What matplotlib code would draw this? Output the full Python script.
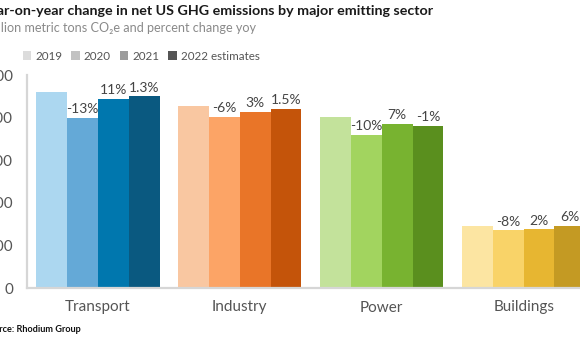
import matplotlib
matplotlib.use("Agg")
import matplotlib.pyplot as plt
from matplotlib.patches import Patch
import numpy as np

sectors = ["Transport", "Industry", "Power", "Buildings"]
years = ["2019", "2020", "2021", "2022 estimates"]
v2019 = [1840, 1711, 1606, 585]
v2020 = [1597, 1608, 1440, 540]
v2021 = [1775, 1656, 1543, 551]
v2022 = [1800, 1681, 1521, 584]
pct2020 = ["-13%", "-6%", "-10%", "-8%"]
pct2021 = ["11%", "3%", "7%", "2%"]
pct2022 = ["1.3%", "1.5%", "-1%", "6%"]
yticks = [0, 400, 800, 1200, 1600, 2000]
ytick_labels = ["0", "400", "800", "1,200", "1,600", "2,000"]

palette = {
    "Transport": ["#acd7f0", "#64a9d7", "#0077ae", "#0a5980"],
    "Industry": ["#f9c7a1", "#fca466", "#e97528", "#c4540a"],
    "Power": ["#c3e29b", "#a2d45f", "#78b330", "#5a8f1e"],
    "Buildings": ["#fce5a2", "#f9d368", "#e7b631", "#c49a23"],
}
legend_colors = ["#dcdcdc", "#c2c2c2", "#9c9c9c", "#555555"]

plt.rcParams["font.family"] = ["Lato", "DejaVu Sans"]

W, H = 580, 350
fig = plt.figure(figsize=(W / 100, H / 100), dpi=100)

x0_px, xr_px = 27, 594.6
yb_px, yt_px = 288, 75
ax = fig.add_axes([x0_px / W, 1 - yb_px / H, (xr_px - x0_px) / W, (yb_px - yt_px) / H])

series = [v2019, v2020, v2021, v2022]
pcts = [None, pct2020, pct2021, pct2022]
bw = 0.217
x = np.arange(len(sectors))
for j, vals in enumerate(series):
    cols = [palette[s][j] for s in sectors]
    bars = ax.bar(x + (j - 1.5) * bw, vals, width=bw, color=cols, edgecolor="none", zorder=2)
    if pcts[j] is not None:
        ax.bar_label(bars, labels=pcts[j], padding=2, fontsize=10, color="#444444")

ax.set_xlim(-0.5, 3.5)
ax.set_ylim(0, 2000)
ax.set_yticks(yticks)
ax.set_yticklabels(ytick_labels)
ax.set_xticks(x)
ax.set_xticklabels(sectors)
ax.tick_params(axis="both", length=0, labelsize=11, colors="#555555")
ax.tick_params(axis="y", pad=10)
ax.tick_params(axis="x", pad=9)
for sp in ["top", "right"]:
    ax.spines[sp].set_visible(False)
for sp in ["left", "bottom"]:
    ax.spines[sp].set_color("#d6d6d6")
    ax.spines[sp].set_linewidth(1.6)

fig.text(433 / W, 1 - 11 / H, "Year-on-year change in net US GHG emissions by major emitting sector",
         ha="right", va="center", fontsize=10.3, fontweight="bold", color="#1a1a1a")
fig.text(256 / W, 1 - 28 / H, "Million metric tons CO₂e and percent change yoy",
         ha="right", va="center", fontsize=9.1, color="#8a8a8a")
fig.text(81 / W, 1 - 330 / H, "Source: Rhodium Group",
         ha="right", va="center", fontsize=6.6, fontweight="bold", color="#111111")

handles = [Patch(facecolor=c, edgecolor="none") for c in legend_colors]
fig.legend(handles, years, loc="center left", bbox_to_anchor=(12 / W, 1 - 56 / H), ncol=4,
           frameon=False, fontsize=8.4, handlelength=0.75, handleheight=0.75,
           handletextpad=0.35, columnspacing=0.75, labelcolor="#555555")

fig.savefig("out.png", dpi=100)
